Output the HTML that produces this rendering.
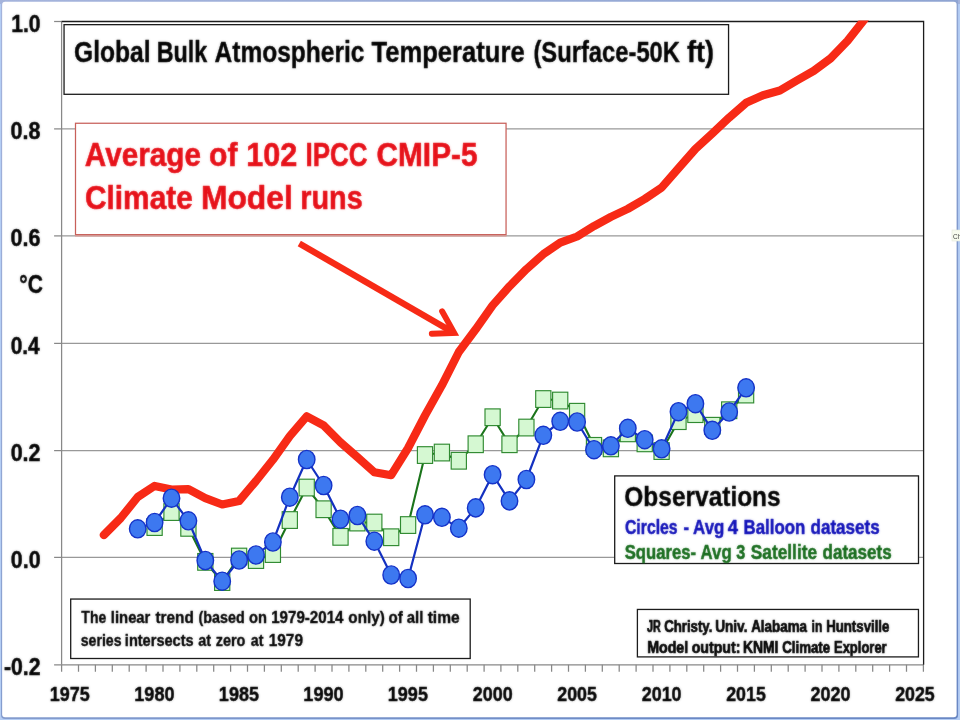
<!DOCTYPE html>
<html lang="en">
<head>
<meta charset="utf-8">
<title>Global Bulk Atmospheric Temperature (Surface-50K ft)</title>
<style>
html,body{margin:0;padding:0;background:#fff;}
body{width:960px;height:720px;overflow:hidden;position:relative;font-family:"Liberation Sans",sans-serif;}
#chart{position:absolute;left:0;top:0;width:960px;height:720px;display:block;}
#chart text{font-family:"Liberation Sans",sans-serif;font-weight:bold;}
#chart text[id]{filter:url(#soften);}
.grid line{stroke:#999;stroke-width:1.2;}
.axis line,.axis path{stroke:#888;stroke-width:1.25;fill:none;}
.box{fill:#fff;stroke:#1c1c1c;stroke-width:1.3;}
</style>
</head>
<body>
<svg id="chart" width="960" height="720" viewBox="0 0 960 720">
<defs>
<filter id="soften" x="-5%" y="-25%" width="110%" height="150%" color-interpolation-filters="sRGB">
<feGaussianBlur in="SourceGraphic" stdDeviation="0.8" result="b"/>
<feComposite in="SourceGraphic" in2="b" operator="arithmetic" k1="0" k2="0.7" k3="0.3" k4="0"/>
</filter>
<linearGradient id="fr-in" x1="0" y1="0" x2="0.75" y2="1"><stop offset="0" stop-color="#a5b4dc"/><stop offset="0.5" stop-color="#8ea4d2"/><stop offset="1" stop-color="#6a88c4"/></linearGradient>
<clipPath id="plotclip"><rect x="61" y="20.6" width="863" height="645"/></clipPath>
</defs>

<g id="frame">
<rect x="0" y="0" width="960" height="720" fill="#b4cdf4"/>
<rect x="0" y="0" width="960" height="4" fill="#a5b4dc"/>
<rect x="1" y="-3" width="957.1" height="722" rx="4" ry="4" fill="url(#fr-in)"/>
<rect x="2.15" y="1.75" width="954.45" height="715.45" rx="3" ry="3" fill="#ffffff"/>
</g>
<g class="grid">
<line x1="61.6" x2="923.6" y1="128.9" y2="128.9"/>
<line x1="61.6" x2="923.6" y1="235.9" y2="235.9"/>
<line x1="61.6" x2="923.6" y1="343.4" y2="343.4"/>
<line x1="61.6" x2="923.6" y1="450.6" y2="450.6"/>
<line x1="61.6" x2="923.6" y1="557.4" y2="557.4"/>
</g>
<g class="axis">
<line x1="61.6" x2="61.6" y1="21.5" y2="664.8"/>
<line x1="54.1" x2="923.6" y1="664.8" y2="664.8"/>
<line x1="54.1" x2="61.6" y1="21.5" y2="21.5"/>
<line x1="54.1" x2="61.6" y1="128.9" y2="128.9"/>
<line x1="54.1" x2="61.6" y1="235.9" y2="235.9"/>
<line x1="54.1" x2="61.6" y1="343.4" y2="343.4"/>
<line x1="54.1" x2="61.6" y1="450.6" y2="450.6"/>
<line x1="54.1" x2="61.6" y1="557.4" y2="557.4"/>
<path d="M61.6 664.8v7M78.5 664.8v7M95.4 664.8v7M112.3 664.8v7M129.2 664.8v7M146.1 664.8v7M163.0 664.8v7M179.9 664.8v7M196.8 664.8v7M213.7 664.8v7M230.6 664.8v7M247.5 664.8v7M264.4 664.8v7M281.3 664.8v7M298.2 664.8v7M315.1 664.8v7M332.0 664.8v7M348.9 664.8v7M365.8 664.8v7M382.7 664.8v7M399.6 664.8v7M416.5 664.8v7M433.4 664.8v7M450.3 664.8v7M467.2 664.8v7M484.1 664.8v7M500.9 664.8v7M517.8 664.8v7M534.7 664.8v7M551.6 664.8v7M568.5 664.8v7M585.4 664.8v7M602.3 664.8v7M619.2 664.8v7M636.1 664.8v7M653.0 664.8v7M669.9 664.8v7M686.8 664.8v7M703.7 664.8v7M720.6 664.8v7M737.5 664.8v7M754.4 664.8v7M771.3 664.8v7M788.2 664.8v7M805.1 664.8v7M822.0 664.8v7M838.9 664.8v7M855.8 664.8v7M872.7 664.8v7M889.6 664.8v7M906.5 664.8v7M923.4 664.8v7"/>
</g>
<path d="M61.6 21.5H923.6V664.8" fill="none" stroke="#1c1c1c" stroke-width="1.3"/>
<g id="series" clip-path="url(#plotclip)">
<polyline id="model" points="103.9,535.0 120.8,518.0 137.7,497.0 154.6,485.9 171.5,489.6 188.4,489.2 205.3,498.2 222.2,504.5 239.1,501.0 256.0,481.0 272.9,459.8 289.8,436.2 306.7,416.3 323.6,425.4 340.5,442.4 357.4,457.2 374.3,472.2 391.2,475.2 408.1,448.0 425.0,415.5 441.9,385.3 458.8,352.0 475.7,329.3 492.6,305.4 509.5,286.3 526.4,269.2 543.3,254.2 560.2,242.7 577.1,236.5 594.0,226.1 610.9,216.9 627.8,208.9 644.7,199.0 661.6,187.6 678.5,168.3 695.4,149.0 712.3,133.5 729.2,117.6 746.1,102.8 763.0,95.2 779.9,90.5 796.8,80.5 813.7,70.9 830.6,58.4 847.5,40.9 864.4,19.5 881.3,-2.0" fill="none" stroke="#f72a16" stroke-width="8.2" stroke-linejoin="round" stroke-linecap="round"/>
<polyline id="sat-line" points="154.6,527.0 171.5,512.0 188.4,527.8 205.3,561.8 222.2,582.0 239.1,556.5 256.0,560.0 272.9,554.0 289.8,520.0 306.7,487.5 323.6,509.2 340.5,536.8 357.4,522.5 374.3,522.5 391.2,537.2 408.1,525.0 425.0,455.0 441.9,452.5 458.8,460.8 475.7,444.2 492.6,417.2 509.5,444.2 526.4,427.5 543.3,399.0 560.2,400.5 577.1,411.7 594.0,445.8 610.9,448.3 627.8,433.3 644.7,443.3 661.6,451.0 678.5,421.1 695.4,414.1 712.3,425.7 729.2,410.2 746.1,394.5" fill="none" stroke="#1b741b" stroke-width="2.1" stroke-linejoin="round"/>
<g id="sat" fill="#d5f8d2" stroke="#2f8a30" stroke-width="1.15">
<rect x="147.0" y="518.7" width="15.2" height="16.7"/>
<rect x="163.9" y="503.7" width="15.2" height="16.7"/>
<rect x="180.8" y="519.5" width="15.2" height="16.7"/>
<rect x="197.7" y="553.5" width="15.2" height="16.7"/>
<rect x="214.6" y="573.7" width="15.2" height="16.7"/>
<rect x="231.5" y="548.2" width="15.2" height="16.7"/>
<rect x="248.4" y="551.7" width="15.2" height="16.7"/>
<rect x="265.3" y="545.7" width="15.2" height="16.7"/>
<rect x="282.2" y="511.7" width="15.2" height="16.7"/>
<rect x="299.1" y="479.2" width="15.2" height="16.7"/>
<rect x="316.0" y="500.9" width="15.2" height="16.7"/>
<rect x="332.9" y="528.5" width="15.2" height="16.7"/>
<rect x="349.8" y="514.2" width="15.2" height="16.7"/>
<rect x="366.7" y="514.2" width="15.2" height="16.7"/>
<rect x="383.6" y="528.9" width="15.2" height="16.7"/>
<rect x="400.5" y="516.7" width="15.2" height="16.7"/>
<rect x="417.4" y="446.7" width="15.2" height="16.7"/>
<rect x="434.3" y="444.2" width="15.2" height="16.7"/>
<rect x="451.2" y="452.4" width="15.2" height="16.7"/>
<rect x="468.1" y="435.9" width="15.2" height="16.7"/>
<rect x="485.0" y="408.9" width="15.2" height="16.7"/>
<rect x="501.9" y="435.9" width="15.2" height="16.7"/>
<rect x="518.8" y="419.2" width="15.2" height="16.7"/>
<rect x="535.7" y="390.7" width="15.2" height="16.7"/>
<rect x="552.6" y="392.2" width="15.2" height="16.7"/>
<rect x="569.5" y="403.4" width="15.2" height="16.7"/>
<rect x="586.4" y="437.5" width="15.2" height="16.7"/>
<rect x="603.3" y="440.0" width="15.2" height="16.7"/>
<rect x="620.2" y="425.0" width="15.2" height="16.7"/>
<rect x="637.1" y="435.0" width="15.2" height="16.7"/>
<rect x="654.0" y="442.7" width="15.2" height="16.7"/>
<rect x="670.9" y="412.8" width="15.2" height="16.7"/>
<rect x="687.8" y="405.8" width="15.2" height="16.7"/>
<rect x="704.7" y="417.4" width="15.2" height="16.7"/>
<rect x="721.6" y="401.9" width="15.2" height="16.7"/>
<rect x="738.5" y="386.2" width="15.2" height="16.7"/>
</g>
<polyline id="bal-line" points="137.7,528.8 154.6,522.5 171.5,498.2 188.4,520.8 205.3,560.5 222.2,581.2 239.1,560.0 256.0,555.0 272.9,542.0 289.8,497.2 306.7,459.5 323.6,485.5 340.5,519.2 357.4,515.5 374.3,541.2 391.2,575.0 408.1,578.5 425.0,514.8 441.9,517.3 458.8,528.2 475.7,507.9 492.6,474.7 509.5,500.9 526.4,479.5 543.3,435.3 560.2,421.3 577.1,422.0 594.0,449.7 610.9,445.8 627.8,428.3 644.7,439.7 661.6,448.8 678.5,411.7 695.4,403.7 712.3,430.3 729.2,412.0 746.1,387.8" fill="none" stroke="#1431c0" stroke-width="2.2" stroke-linejoin="round"/>
<g id="bal" fill="#3d78f0" stroke="#1533c8" stroke-width="1.4">
<ellipse cx="137.7" cy="528.8" rx="8.25" ry="9.1"/>
<ellipse cx="154.6" cy="522.5" rx="8.25" ry="9.1"/>
<ellipse cx="171.5" cy="498.2" rx="8.25" ry="9.1"/>
<ellipse cx="188.4" cy="520.8" rx="8.25" ry="9.1"/>
<ellipse cx="205.3" cy="560.5" rx="8.25" ry="9.1"/>
<ellipse cx="222.2" cy="581.2" rx="8.25" ry="9.1"/>
<ellipse cx="239.1" cy="560.0" rx="8.25" ry="9.1"/>
<ellipse cx="256.0" cy="555.0" rx="8.25" ry="9.1"/>
<ellipse cx="272.9" cy="542.0" rx="8.25" ry="9.1"/>
<ellipse cx="289.8" cy="497.2" rx="8.25" ry="9.1"/>
<ellipse cx="306.7" cy="459.5" rx="8.25" ry="9.1"/>
<ellipse cx="323.6" cy="485.5" rx="8.25" ry="9.1"/>
<ellipse cx="340.5" cy="519.2" rx="8.25" ry="9.1"/>
<ellipse cx="357.4" cy="515.5" rx="8.25" ry="9.1"/>
<ellipse cx="374.3" cy="541.2" rx="8.25" ry="9.1"/>
<ellipse cx="391.2" cy="575.0" rx="8.25" ry="9.1"/>
<ellipse cx="408.1" cy="578.5" rx="8.25" ry="9.1"/>
<ellipse cx="425.0" cy="514.8" rx="8.25" ry="9.1"/>
<ellipse cx="441.9" cy="517.3" rx="8.25" ry="9.1"/>
<ellipse cx="458.8" cy="528.2" rx="8.25" ry="9.1"/>
<ellipse cx="475.7" cy="507.9" rx="8.25" ry="9.1"/>
<ellipse cx="492.6" cy="474.7" rx="8.25" ry="9.1"/>
<ellipse cx="509.5" cy="500.9" rx="8.25" ry="9.1"/>
<ellipse cx="526.4" cy="479.5" rx="8.25" ry="9.1"/>
<ellipse cx="543.3" cy="435.3" rx="8.25" ry="9.1"/>
<ellipse cx="560.2" cy="421.3" rx="8.25" ry="9.1"/>
<ellipse cx="577.1" cy="422.0" rx="8.25" ry="9.1"/>
<ellipse cx="594.0" cy="449.7" rx="8.25" ry="9.1"/>
<ellipse cx="610.9" cy="445.8" rx="8.25" ry="9.1"/>
<ellipse cx="627.8" cy="428.3" rx="8.25" ry="9.1"/>
<ellipse cx="644.7" cy="439.7" rx="8.25" ry="9.1"/>
<ellipse cx="661.6" cy="448.8" rx="8.25" ry="9.1"/>
<ellipse cx="678.5" cy="411.7" rx="8.25" ry="9.1"/>
<ellipse cx="695.4" cy="403.7" rx="8.25" ry="9.1"/>
<ellipse cx="712.3" cy="430.3" rx="8.25" ry="9.1"/>
<ellipse cx="729.2" cy="412.0" rx="8.25" ry="9.1"/>
<ellipse cx="746.1" cy="387.8" rx="8.25" ry="9.1"/>
</g>
</g>
<g id="title">
<rect class="box" x="64.05" y="24.65" width="664.50" height="69.65"/>
<text id="t_title" y="61.7" font-size="28.9" fill="#000" stroke="#000" stroke-width="0.4" stroke-linejoin="round"><tspan x="74.00" textLength="76.57" lengthAdjust="spacingAndGlyphs">Global</tspan> <tspan x="156.70" textLength="50.58" lengthAdjust="spacingAndGlyphs">Bulk</tspan> <tspan x="214.50" textLength="150.01" lengthAdjust="spacingAndGlyphs">Atmospheric</tspan> <tspan x="371.45" textLength="153.31" lengthAdjust="spacingAndGlyphs">Temperature</tspan> <tspan x="533.40" textLength="146.61" lengthAdjust="spacingAndGlyphs">(Surface-50K</tspan> <tspan x="686.90" textLength="27.04" lengthAdjust="spacingAndGlyphs">ft)</tspan></text>
</g>
<g id="callout">
<rect x="75.5" y="123.25" width="430.55" height="111.40" fill="#fff" stroke="#c8605a" stroke-width="1.25"/>
<line x1="75" x2="506.6" y1="235.9" y2="235.9" stroke="#dc9690" stroke-width="1.2"/>
<text id="t_avg1" y="166.3" font-size="33.4" fill="#e60f17" stroke="#e60f17" stroke-width="0.6" stroke-linejoin="round"><tspan x="84.85" textLength="116.06" lengthAdjust="spacingAndGlyphs">Average</tspan> <tspan x="209.00" textLength="28.42" lengthAdjust="spacingAndGlyphs">of</tspan> <tspan x="246.25" textLength="51.03" lengthAdjust="spacingAndGlyphs">102</tspan> <tspan x="305.50" textLength="62.07" lengthAdjust="spacingAndGlyphs">IPCC</tspan> <tspan x="376.50" textLength="101.02" lengthAdjust="spacingAndGlyphs">CMIP-5</tspan></text>
<text id="t_avg2" y="209.4" font-size="33.4" fill="#e60f17" stroke="#e60f17" stroke-width="0.6" stroke-linejoin="round"><tspan x="85.00" textLength="107.78" lengthAdjust="spacingAndGlyphs">Climate</tspan> <tspan x="200.90" textLength="92.01" lengthAdjust="spacingAndGlyphs">Model</tspan> <tspan x="300.25" textLength="62.46" lengthAdjust="spacingAndGlyphs">runs</tspan></text>
</g>
<g id="arrow" fill="none" stroke="#f72a16">
<path d="M299.3 243.5L452.5 331.9" stroke-width="6.4" stroke-linecap="butt"/>
<path d="M442.1 311.3L454.2 332.9L431.8 333.75" stroke-width="5.9" stroke-linecap="round" stroke-linejoin="miter" stroke-miterlimit="10"/>
</g>
<g id="legend">
<rect class="box" x="614.7" y="475.9" width="303.80" height="87.60"/>
<text id="t_obs" y="506.0" font-size="28.0" fill="#000" stroke="#000" stroke-width="0.4" stroke-linejoin="round"><tspan x="624.35" textLength="156.32" lengthAdjust="spacingAndGlyphs">Observations</tspan></text>
<text id="t_cir" y="534.2" font-size="19.8" fill="#1010b8" stroke="#1010b8" stroke-width="0.5" stroke-linejoin="round"><tspan x="624.95" textLength="52.71" lengthAdjust="spacingAndGlyphs">Circles</tspan> <tspan x="683.50" textLength="5.54" lengthAdjust="spacingAndGlyphs">-</tspan> <tspan x="693.10" textLength="31.24" lengthAdjust="spacingAndGlyphs">Avg</tspan> <tspan x="727.70" textLength="10.31" lengthAdjust="spacingAndGlyphs">4</tspan> <tspan x="743.55" textLength="61.74" lengthAdjust="spacingAndGlyphs">Balloon</tspan> <tspan x="810.50" textLength="69.16" lengthAdjust="spacingAndGlyphs">datasets</tspan></text>
<text id="t_sq" y="558.8" font-size="19.8" fill="#156a1a" stroke="#156a1a" stroke-width="0.5" stroke-linejoin="round"><tspan x="624.75" textLength="71.26" lengthAdjust="spacingAndGlyphs">Squares-</tspan> <tspan x="700.60" textLength="31.09" lengthAdjust="spacingAndGlyphs">Avg</tspan> <tspan x="736.25" textLength="9.06" lengthAdjust="spacingAndGlyphs">3</tspan> <tspan x="750.75" textLength="66.35" lengthAdjust="spacingAndGlyphs">Satellite</tspan> <tspan x="822.55" textLength="69.11" lengthAdjust="spacingAndGlyphs">datasets</tspan></text>
</g>
<g id="note">
<rect class="box" x="70.7" y="599.05" width="399.50" height="59.45"/>
<text id="t_n1" y="623.3" font-size="17.0" fill="#000" stroke="#000" stroke-width="0.4" stroke-linejoin="round"><tspan x="81.35" textLength="24.90" lengthAdjust="spacingAndGlyphs">The</tspan> <tspan x="110.85" textLength="39.53" lengthAdjust="spacingAndGlyphs">linear</tspan> <tspan x="155.45" textLength="38.32" lengthAdjust="spacingAndGlyphs">trend</tspan> <tspan x="198.50" textLength="46.14" lengthAdjust="spacingAndGlyphs">(based</tspan> <tspan x="249.05" textLength="17.92" lengthAdjust="spacingAndGlyphs">on</tspan> <tspan x="271.20" textLength="72.26" lengthAdjust="spacingAndGlyphs">1979-2014</tspan> <tspan x="348.35" textLength="36.38" lengthAdjust="spacingAndGlyphs">only)</tspan> <tspan x="388.55" textLength="14.25" lengthAdjust="spacingAndGlyphs">of</tspan> <tspan x="406.75" textLength="16.57" lengthAdjust="spacingAndGlyphs">all</tspan> <tspan x="427.65" textLength="31.96" lengthAdjust="spacingAndGlyphs">time</tspan></text>
<text id="t_n2" y="645.6" font-size="17.0" fill="#000" stroke="#000" stroke-width="0.4" stroke-linejoin="round"><tspan x="80.70" textLength="40.82" lengthAdjust="spacingAndGlyphs">series</tspan> <tspan x="124.85" textLength="68.77" lengthAdjust="spacingAndGlyphs">intersects</tspan> <tspan x="198.20" textLength="12.81" lengthAdjust="spacingAndGlyphs">at</tspan> <tspan x="215.70" textLength="29.77" lengthAdjust="spacingAndGlyphs">zero</tspan> <tspan x="250.80" textLength="12.66" lengthAdjust="spacingAndGlyphs">at</tspan> <tspan x="268.70" textLength="34.30" lengthAdjust="spacingAndGlyphs">1979</tspan></text>
</g>
<g id="credit">
<rect class="box" x="637.4" y="609.45" width="281.05" height="47.45"/>
<text id="t_c1" y="632.4" font-size="15.8" fill="#000" stroke="#000" stroke-width="0.7" stroke-linejoin="round"><tspan x="647.05" textLength="13.80" lengthAdjust="spacingAndGlyphs">JR</tspan> <tspan x="664.20" textLength="48.23" lengthAdjust="spacingAndGlyphs">Christy.</tspan> <tspan x="715.15" textLength="32.30" lengthAdjust="spacingAndGlyphs">Univ.</tspan> <tspan x="751.20" textLength="55.90" lengthAdjust="spacingAndGlyphs">Alabama</tspan> <tspan x="811.60" textLength="10.77" lengthAdjust="spacingAndGlyphs">in</tspan> <tspan x="826.15" textLength="63.26" lengthAdjust="spacingAndGlyphs">Huntsville</tspan></text>
<text id="t_c2" y="652.7" font-size="15.8" fill="#000" stroke="#000" stroke-width="0.7" stroke-linejoin="round"><tspan x="647.15" textLength="41.08" lengthAdjust="spacingAndGlyphs">Model</tspan> <tspan x="691.65" textLength="48.83" lengthAdjust="spacingAndGlyphs">output:</tspan> <tspan x="742.95" textLength="35.51" lengthAdjust="spacingAndGlyphs">KNMI</tspan> <tspan x="782.20" textLength="48.01" lengthAdjust="spacingAndGlyphs">Climate</tspan> <tspan x="834.00" textLength="52.65" lengthAdjust="spacingAndGlyphs">Explorer</tspan></text>
</g>
<g id="ylabels">
<text id="t_y0" y="31.8" font-size="23.4" fill="#000" stroke="#000" stroke-width="0.5" stroke-linejoin="round"><tspan x="11.15" textLength="29.44" lengthAdjust="spacingAndGlyphs">1.0</tspan></text>
<text id="t_y1" y="139.2" font-size="23.4" fill="#000" stroke="#000" stroke-width="0.5" stroke-linejoin="round"><tspan x="10.60" textLength="29.95" lengthAdjust="spacingAndGlyphs">0.8</tspan></text>
<text id="t_y2" y="246.2" font-size="23.4" fill="#000" stroke="#000" stroke-width="0.5" stroke-linejoin="round"><tspan x="10.60" textLength="29.95" lengthAdjust="spacingAndGlyphs">0.6</tspan></text>
<text id="t_y3" y="353.7" font-size="23.4" fill="#000" stroke="#000" stroke-width="0.5" stroke-linejoin="round"><tspan x="10.65" textLength="29.11" lengthAdjust="spacingAndGlyphs">0.4</tspan></text>
<text id="t_y4" y="460.9" font-size="23.4" fill="#000" stroke="#000" stroke-width="0.5" stroke-linejoin="round"><tspan x="10.65" textLength="29.91" lengthAdjust="spacingAndGlyphs">0.2</tspan></text>
<text id="t_y5" y="567.6" font-size="23.4" fill="#000" stroke="#000" stroke-width="0.5" stroke-linejoin="round"><tspan x="10.75" textLength="29.81" lengthAdjust="spacingAndGlyphs">0.0</tspan></text>
<text id="t_y6" y="675.1" font-size="23.4" fill="#000" stroke="#000" stroke-width="0.5" stroke-linejoin="round"><tspan x="3.90" textLength="36.64" lengthAdjust="spacingAndGlyphs">-0.2</tspan></text>
<text id="t_degc" y="293.2" font-size="26.5" fill="#000" stroke="#000" stroke-width="0.5" stroke-linejoin="round"><tspan x="19.25" textLength="23.56" lengthAdjust="spacingAndGlyphs">°C</tspan></text>
</g>
<g id="xlabels">
<text id="t_x0" y="700.8" font-size="19.6" fill="#000" stroke="#000" stroke-width="0.45" stroke-linejoin="round"><tspan x="49.85" textLength="39.98" lengthAdjust="spacingAndGlyphs">1975</tspan></text>
<text id="t_x1" y="700.8" font-size="19.6" fill="#000" stroke="#000" stroke-width="0.45" stroke-linejoin="round"><tspan x="134.32" textLength="40.25" lengthAdjust="spacingAndGlyphs">1980</tspan></text>
<text id="t_x2" y="700.8" font-size="19.6" fill="#000" stroke="#000" stroke-width="0.45" stroke-linejoin="round"><tspan x="218.86" textLength="40.09" lengthAdjust="spacingAndGlyphs">1985</tspan></text>
<text id="t_x3" y="700.8" font-size="19.6" fill="#000" stroke="#000" stroke-width="0.45" stroke-linejoin="round"><tspan x="303.34" textLength="40.35" lengthAdjust="spacingAndGlyphs">1990</tspan></text>
<text id="t_x4" y="700.8" font-size="19.6" fill="#000" stroke="#000" stroke-width="0.45" stroke-linejoin="round"><tspan x="387.82" textLength="40.09" lengthAdjust="spacingAndGlyphs">1995</tspan></text>
<text id="t_x5" y="700.8" font-size="19.6" fill="#000" stroke="#000" stroke-width="0.45" stroke-linejoin="round"><tspan x="472.80" textLength="39.82" lengthAdjust="spacingAndGlyphs">2000</tspan></text>
<text id="t_x6" y="700.8" font-size="19.6" fill="#000" stroke="#000" stroke-width="0.45" stroke-linejoin="round"><tspan x="557.28" textLength="39.56" lengthAdjust="spacingAndGlyphs">2005</tspan></text>
<text id="t_x7" y="700.8" font-size="19.6" fill="#000" stroke="#000" stroke-width="0.45" stroke-linejoin="round"><tspan x="641.76" textLength="39.82" lengthAdjust="spacingAndGlyphs">2010</tspan></text>
<text id="t_x8" y="700.8" font-size="19.6" fill="#000" stroke="#000" stroke-width="0.45" stroke-linejoin="round"><tspan x="726.24" textLength="39.56" lengthAdjust="spacingAndGlyphs">2015</tspan></text>
<text id="t_x9" y="700.8" font-size="19.6" fill="#000" stroke="#000" stroke-width="0.45" stroke-linejoin="round"><tspan x="810.58" textLength="39.98" lengthAdjust="spacingAndGlyphs">2020</tspan></text>
<text id="t_x10" y="700.8" font-size="19.6" fill="#000" stroke="#000" stroke-width="0.45" stroke-linejoin="round"><tspan x="895.20" textLength="39.56" lengthAdjust="spacingAndGlyphs">2025</tspan></text>
</g>
<g id="tip">
<rect x="952" y="230" width="10" height="11" fill="#f7fbee" stroke="#e3e8da" stroke-width="0.6"/>
<text x="953" y="238.6" font-size="6.5" fill="#444" style="font-weight:normal">Ch</text>
</g>
</svg>
</body>
</html>
